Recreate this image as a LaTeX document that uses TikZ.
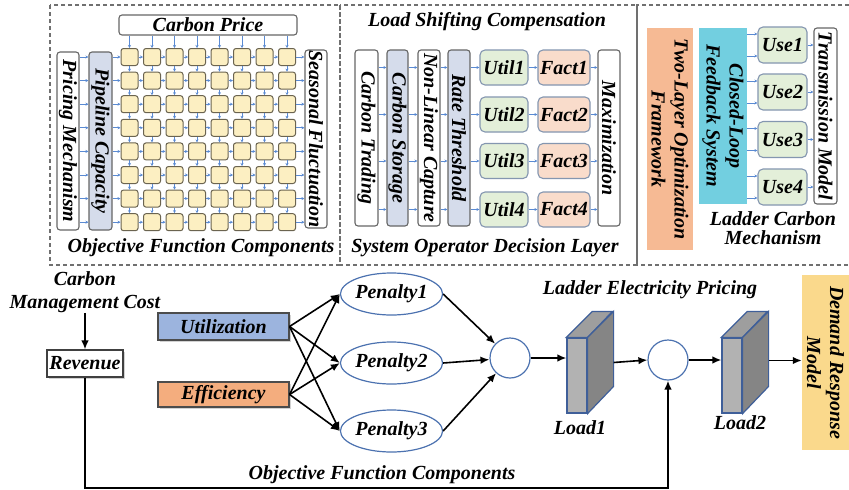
\documentclass[tikz,border=0pt]{standalone}
\usepackage{fontspec}
\setmainfont{Liberation Serif}
\usetikzlibrary{shapes.geometric,arrows.meta,shadows,calc}
\definecolor{sqf}{HTML}{FCEFC2}
\definecolor{sqd}{HTML}{6B6450}
\definecolor{blueA}{HTML}{5A8AD2}
\definecolor{pbf}{HTML}{D5DCEB}
\definecolor{grf}{HTML}{E3EFD9}
\definecolor{gbd}{HTML}{8496B0}
\definecolor{fcf}{HTML}{F9DCCB}
\definecolor{tlf}{HTML}{F6BA94}
\definecolor{clf}{HTML}{72CFE0}
\definecolor{utf}{HTML}{9CB4DE}
\definecolor{eff}{HTML}{F4AD7E}
\definecolor{dmf}{HTML}{FAD98C}
\definecolor{elb}{HTML}{4C72B0}
\definecolor{lbd}{HTML}{3F5F99}
\definecolor{dsh}{HTML}{707070}
\begin{document}
\begin{tikzpicture}[x=1pt,y=-1pt,
  every node/.style={font=\bfseries\itshape\fontsize{20}{23}\selectfont, inner sep=0pt},
  wbox/.style={draw=black!60, line width=1.1pt, rounded corners=3pt, fill=white},
  vb/.style 2 args={rotate=-90, minimum width=#1, minimum height=#2},
  hb/.style 2 args={minimum width=#1, minimum height=#2},
  sq/.style={draw=sqd, fill=sqf, line width=1pt, rounded corners=2.5pt, minimum size=17pt},
  barr/.style={draw=blueA, line width=0.9pt, -{Stealth[length=3pt,width=3pt]}},
  arr/.style={draw=black, line width=1.6pt, -{Latex[length=9pt,width=7.5pt]}},
  panel/.style={draw=dsh, line width=1.2pt, dash pattern=on 4pt off 3pt},
  pen/.style={ellipse, draw=elb, line width=1.2pt, fill=white, minimum width=77pt, minimum height=42pt},
  circ/.style={circle, draw=elb, line width=1.2pt, fill=white, minimum size=40pt},
  loadf/.style={draw=lbd, line width=1.2pt, fill=black!30, minimum width=20pt, minimum height=75pt},
  shad/.style={drop shadow={shadow xshift=1.5pt, shadow yshift=-1.5pt, fill=black!35}}
]
\useasboundingbox (0,0) rectangle (849,490);
\fill[white] (0,0) rectangle (849,490);

% panels
\draw[panel] (50,5) rectangle (340,265);
\draw[panel] (340,5) rectangle (637,265);
\draw[panel] (849,5) -- (637,5) -- (637,265) -- (849,265);

% ---------- left panel ----------
\node[wbox, hb={178pt}{20pt}] (cp) at (208,25) {Carbon Price};
\node[wbox, vb={178pt}{22pt}] (pm) at (68,141) {Pricing Mechanism};
\node[wbox, fill=pbf, vb={178pt}{23pt}] (pc) at (100.5,141) {Pipeline Capacity};
\node[wbox, vb={178pt}{22pt}] (sf) at (316,139) {Seasonal Fluctuation};
\foreach \i in {1,...,8}
  \foreach \j in {1,...,8}
    \node[sq] (g\i\j) at ({129.5+(\j-1)*22.5},{57+(\i-1)*23.6}) {};
\foreach \i in {1,...,8} {
  \draw[barr] (pm.north |- g\i1) -- (pc.south |- g\i1);
  \draw[barr] (pc.north |- g\i1) -- (g\i1.west);
  \foreach \j [evaluate=\j as \k using int(\j+1)] in {1,...,7}
    \draw[barr] (g\i\j.east) -- (g\i\k.west);
  \draw[barr] (g\i8.east) -- (sf.south |- g\i8);
}
\foreach \j in {1,...,8} {
  \draw[barr] (cp.south -| g1\j) -- (g1\j.north);
  \foreach \i [evaluate=\i as \k using int(\i+1)] in {1,...,7}
    \draw[barr] (g\i\j.south) -- (g\k\j.north);
}
\node (t1) at (201,248) {Objective Function Components};

% ---------- middle panel ----------
\node (t2) at (487,22) {Load Shifting Compensation};
\node[wbox, vb={176pt}{23pt}] (ct) at (366.5,138) {Carbon Trading};
\node[wbox, fill=pbf, vb={176pt}{21pt}] (cs) at (397.5,138) {Carbon Storage};
\node[wbox, vb={176pt}{22pt}] (nl) at (429,138) {Non-Linear Capture};
\node[wbox, fill=pbf, vb={176pt}{22pt}] (rt) at (459,138) {Rate Threshold};
\node[wbox, vb={176pt}{22pt}] (mx) at (609,138) {Maximization};
\foreach \r/\yy in {1/67.5,2/114.5,3/161,4/209.5} {
  \node[wbox, draw=gbd, fill=grf, hb={48pt}{35pt}, rounded corners=5pt] (u\r) at (504,\yy) {Util\r};
  \node[wbox, draw=gbd, fill=fcf, hb={52pt}{35pt}, rounded corners=5pt] (f\r) at (564,\yy) {Fact\r};
  \draw[barr] (ct.north |- u\r) -- (cs.south |- u\r);
  \draw[barr] (cs.north |- u\r) -- (nl.south |- u\r);
  \draw[barr] (nl.north |- u\r) -- (rt.south |- u\r);
  \draw[barr] (rt.north |- u\r) -- (u\r.west);
  \draw[barr] (u\r.east) -- (f\r.west);
  \draw[barr] (f\r.east) -- (mx.south |- f\r);
}
\node (t3) at (485,248) {System Operator Decision Layer};

% ---------- right panel ----------
\node[fill=tlf, vb={222pt}{46pt}, align=center] (tl) at (670,139) {Two-Layer Optimization\\Framework};
\node[fill=clf, vb={176pt}{48pt}, align=center] (cl) at (723,116) {Closed-Loop\\Feedback System};
\node[wbox, vb={176pt}{23pt}] (tm) at (825.5,116) {Transmission Model};
\foreach \r/\yy in {1/45,2/92,3/139.5,4/187} {
  \node[wbox, draw=gbd, fill=grf, hb={49pt}{36pt}, rounded corners=5pt] (us\r) at (782.5,\yy) {Use\r};
  \coordinate (ua\r) at ($(us\r.west)+(0,-11)$);
  \coordinate (ub\r) at ($(us\r.west)+(0,11)$);
  \draw[barr] (cl.north |- ua\r) -- (ua\r);
  \draw[barr] (cl.north |- ub\r) -- (ub\r);
  \draw[barr] (us\r.east) -- (tm.south |- us\r);
}
\node[align=center, font=\bfseries\itshape\fontsize{20}{19}\selectfont] (t4) at (773,228) {Ladder Carbon\\Mechanism};

% ---------- bottom ----------
\node[align=center] (cmc) at (85,292) {Carbon\\Management Cost};
\node[wbox, rounded corners=0pt, draw=black!75, shad, hb={76pt}{27pt}] (rev) at (85,363.5) {Revenue};
\node[draw=black!70, line width=1.1pt, fill=utf, shad, hb={131pt}{27pt}] (ut) at (223.5,326.5) {Utilization};
\node[draw=black!70, line width=1.1pt, fill=eff, shad, hb={131pt}{25pt}] (ef) at (223.5,394.5) {Efficiency};
\node[pen] (p1) at (391.5,294) {Penalty1};
\node[pen] (p2) at (391.5,363) {Penalty2};
\node[pen] (p3) at (391.5,431) {Penalty3};
\node[circ] (c1) at (510,358) {};
\node[circ] (c2) at (668,360) {};

\node[loadf] (l1) at (577,375.5) {};
\draw[lbd, line width=1.2pt, fill=black!38] (l1.north west) -- ++(26,-26) -- ++(20,0) -- (l1.north east) -- cycle;
\draw[lbd, line width=1.2pt, fill=black!48] (l1.north east) -- ++(26,-26) -- ++(0,75) -- (l1.south east) -- cycle;
\node[loadf] (l2) at (732,375.5) {};
\draw[lbd, line width=1.2pt, fill=black!38] (l2.north west) -- ++(26,-26) -- ++(20,0) -- (l2.north east) -- cycle;
\draw[lbd, line width=1.2pt, fill=black!48] (l2.north east) -- ++(26,-26) -- ++(0,75) -- (l2.south east) -- cycle;
\coordinate (l1o) at ($(l1.east)+(26,-13)$);
\coordinate (l2o) at ($(l2.east)+(26,-15)$);

\node[fill=dmf, vb={175pt}{47pt}, align=center] (dm) at (825.5,362.5) {Demand Response\\Model};

\node (ll1) at (580,428) {Load1};
\node (ll2) at (740,423) {Load2};
\node (lep) at (650,290) {Ladder Electricity Pricing};
\node (t5) at (382,475) {Objective Function Components};

\draw[arr] (cmc.south) -- (rev.north);
\foreach \s in {ut,ef}
  \foreach \p in {p1,p2,p3}
    \draw[arr] (\s.east) -- (\p.west);
\draw[arr] (p1.east) -- (c1);
\draw[arr] (p2.east) -- (c1);
\draw[arr] (p3.east) -- (c1);
\draw[arr] (c1.east) -- (c1.east -| l1.west);
\draw[arr] (l1o) -- (c2.west);
\draw[arr] (c2.east) -- (c2.east -| l2.west);
\draw[arr] (l2o) -- (l2o -| dm.south);
\coordinate (fb) at (0,488);
\draw[arr] (rev.south) |- (c2.south |- fb) -- (c2.south);
\end{tikzpicture}
\end{document}
